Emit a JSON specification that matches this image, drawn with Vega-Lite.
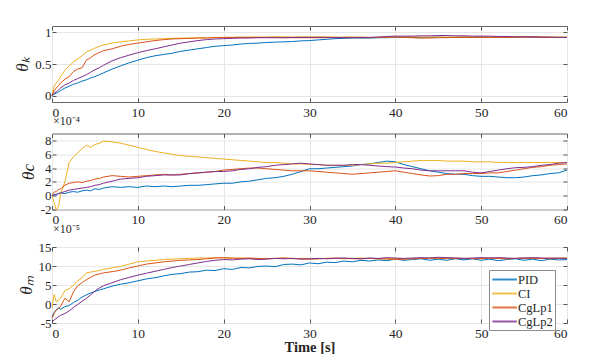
{
"$schema":"https://vega.github.io/schema/vega-lite/v6.json",
"padding":{"left":13,"top":25,"right":5,"bottom":0},
"background":"white",
"config":{
 "font":"Liberation Serif",
 "view":{"stroke":"#666666","strokeWidth":1},
 "axis":{"labelFont":"Liberation Serif","labelFontSize":13,"labelColor":"#262626","labelOverlap":false,"domain":false,"tickColor":"#555555","tickSize":-4,"gridColor":"#e6e6e6","titleFont":"Liberation Serif","titleFontSize":17,"titleColor":"#262626","titleFontWeight":"normal"},
 "axisX":{"labelPadding":7,"labelFontSize":13.5},
 "axisY":{"labelPadding":5,"titlePadding":3},
 "title":{"anchor":"start","frame":"group","fontSize":12,"fontWeight":"normal","font":"Liberation Serif","offset":5,"color":"#262626","dx":1},
 "legend":{"labelFont":"Liberation Serif","labelFontSize":12.5,"labelColor":"#262626","symbolType":"M-1,0H3","symbolSize":150,"symbolStrokeWidth":2,"symbolOpacity":0.8,"strokeColor":"#8c8c8c","fillColor":"white","padding":2,"rowPadding":-2,"labelOffset":12,"labelLimit":100}
},
"data":{"values":[
{"t":0,"g":"PID","k":0,"c":0,"m":-3.4},{"t":0.25,"g":"PID","k":0.02,"c":0.2,"m":-2.2},{"t":0.5,"g":"PID","k":0.04,"c":0.1,"m":-1.6},{"t":0.75,"g":"PID","k":0.06,"c":0.3,"m":-1.0},{"t":1,"g":"PID","k":0.08,"c":0.4,"m":-1.4},{"t":1.5,"g":"PID","k":0.12,"c":0.3,"m":-0.7},{"t":2,"g":"PID","k":0.15,"c":0.5,"m":-0.4},{"t":2.5,"g":"PID","k":0.18,"c":0.6,"m":0.4},{"t":3,"g":"PID","k":0.2,"c":0.5,"m":1.0},{"t":3.5,"g":"PID","k":0.23,"c":0.7,"m":1.8},{"t":4,"g":"PID","k":0.25,"c":0.8,"m":2.4},{"t":4.5,"g":"PID","k":0.28,"c":0.7,"m":2.9},{"t":5,"g":"PID","k":0.3,"c":1.0,"m":3.3},{"t":5.5,"g":"PID","k":0.33,"c":0.9,"m":3.7},
{"t":6,"g":"PID","k":0.36,"c":1.1,"m":4.0},{"t":7,"g":"PID","k":0.42,"c":1.3,"m":4.7},{"t":8,"g":"PID","k":0.47,"c":1.2,"m":5.2},{"t":9,"g":"PID","k":0.52,"c":1.3,"m":5.6},{"t":10,"g":"PID","k":0.56,"c":1.2,"m":6.1},{"t":11,"g":"PID","k":0.6,"c":1.4,"m":6.6},{"t":12,"g":"PID","k":0.63,"c":1.3,"m":6.9},{"t":13,"g":"PID","k":0.65,"c":1.4,"m":7.4},{"t":14,"g":"PID","k":0.67,"c":1.3,"m":7.8},{"t":15,"g":"PID","k":0.7,"c":1.4,"m":8.0},{"t":16,"g":"PID","k":0.72,"c":1.5,"m":8.4},{"t":17,"g":"PID","k":0.74,"c":1.5,"m":8.5},{"t":18,"g":"PID","k":0.76,"c":1.6,"m":8.9},{"t":19,"g":"PID","k":0.78,"c":1.7,"m":8.8},{"t":20,"g":"PID","k":0.79,"c":1.8,"m":9.3},
{"t":21,"g":"PID","k":0.8,"c":1.8,"m":9.1},{"t":22,"g":"PID","k":0.815,"c":2.0,"m":9.6},{"t":23,"g":"PID","k":0.825,"c":2.1,"m":9.5},{"t":24,"g":"PID","k":0.83,"c":2.3,"m":9.9},{"t":25,"g":"PID","k":0.84,"c":2.5,"m":10.0},{"t":26,"g":"PID","k":0.845,"c":2.6,"m":9.8},{"t":27,"g":"PID","k":0.85,"c":2.8,"m":10.4},{"t":28,"g":"PID","k":0.855,"c":3.1,"m":10.5},{"t":29,"g":"PID","k":0.865,"c":3.5,"m":10.3},{"t":30,"g":"PID","k":0.87,"c":3.9,"m":10.8},
{"t":31,"g":"PID","k":0.88,"c":3.9,"m":10.6},{"t":32,"g":"PID","k":0.89,"c":4.0,"m":11.0},{"t":33,"g":"PID","k":0.9,"c":4.1,"m":10.9},{"t":34,"g":"PID","k":0.905,"c":4.2,"m":11.3},{"t":35,"g":"PID","k":0.91,"c":4.3,"m":11.1},{"t":36,"g":"PID","k":0.91,"c":4.5,"m":11.5},{"t":37,"g":"PID","k":0.91,"c":4.6,"m":11.3},{"t":38,"g":"PID","k":0.915,"c":4.8,"m":11.6},{"t":39,"g":"PID","k":0.915,"c":5.0,"m":11.4},{"t":40,"g":"PID","k":0.92,"c":4.9,"m":11.8},
{"t":41,"g":"PID","k":0.92,"c":4.5,"m":11.5},{"t":42,"g":"PID","k":0.92,"c":4.2,"m":11.7},{"t":43,"g":"PID","k":0.915,"c":3.9,"m":11.9},{"t":44,"g":"PID","k":0.92,"c":3.6,"m":11.5},{"t":45,"g":"PID","k":0.925,"c":3.4,"m":11.8},{"t":46,"g":"PID","k":0.92,"c":3.2,"m":11.5},{"t":47,"g":"PID","k":0.92,"c":3.1,"m":11.9},{"t":48,"g":"PID","k":0.925,"c":3.1,"m":11.6},{"t":49,"g":"PID","k":0.92,"c":2.9,"m":11.9},{"t":50,"g":"PID","k":0.925,"c":2.8,"m":11.5},
{"t":51,"g":"PID","k":0.92,"c":2.8,"m":11.8},{"t":52,"g":"PID","k":0.925,"c":2.7,"m":11.4},{"t":53,"g":"PID","k":0.92,"c":2.6,"m":11.7},{"t":54,"g":"PID","k":0.92,"c":2.6,"m":11.9},{"t":55,"g":"PID","k":0.925,"c":2.7,"m":11.5},{"t":56,"g":"PID","k":0.92,"c":2.9,"m":11.8},{"t":57,"g":"PID","k":0.925,"c":3.0,"m":11.4},{"t":58,"g":"PID","k":0.92,"c":3.2,"m":11.8},{"t":59,"g":"PID","k":0.92,"c":3.3,"m":11.6},{"t":60,"g":"PID","k":0.92,"c":3.7,"m":11.7},

{"t":0,"g":"CI","k":0,"c":0,"m":-1.0},{"t":0.25,"g":"CI","k":0.15,"c":-1.0,"m":2.5},{"t":0.5,"g":"CI","k":0.2,"c":-2.0,"m":0.6},{"t":0.75,"g":"CI","k":0.24,"c":-1.6,"m":1.0},{"t":1,"g":"CI","k":0.3,"c":0.2,"m":1.5},{"t":1.5,"g":"CI","k":0.4,"c":2.0,"m":3.5},{"t":2,"g":"CI","k":0.47,"c":4.8,"m":4.0},{"t":2.5,"g":"CI","k":0.53,"c":5.6,"m":5.0},{"t":3,"g":"CI","k":0.58,"c":6.2,"m":6.1},{"t":3.5,"g":"CI","k":0.63,"c":6.8,"m":6.9},{"t":4,"g":"CI","k":0.69,"c":7.3,"m":8.2},{"t":4.5,"g":"CI","k":0.72,"c":7.0,"m":8.4},{"t":5,"g":"CI","k":0.75,"c":7.4,"m":8.6},{"t":5.5,"g":"CI","k":0.78,"c":7.6,"m":8.8},
{"t":6,"g":"CI","k":0.8,"c":7.9,"m":9.1},{"t":7,"g":"CI","k":0.83,"c":7.8,"m":9.5},{"t":8,"g":"CI","k":0.85,"c":7.6,"m":9.9},{"t":9,"g":"CI","k":0.865,"c":7.3,"m":10.5},{"t":10,"g":"CI","k":0.88,"c":7.0,"m":11.1},{"t":11,"g":"CI","k":0.89,"c":6.7,"m":11.3},{"t":12,"g":"CI","k":0.895,"c":6.4,"m":11.5},{"t":13,"g":"CI","k":0.9,"c":6.2,"m":11.7},{"t":14,"g":"CI","k":0.905,"c":6.0,"m":11.8},{"t":15,"g":"CI","k":0.91,"c":5.8,"m":11.9},{"t":16,"g":"CI","k":0.91,"c":5.7,"m":12.0},{"t":17,"g":"CI","k":0.915,"c":5.6,"m":12.1},{"t":18,"g":"CI","k":0.915,"c":5.5,"m":12.1},{"t":19,"g":"CI","k":0.92,"c":5.4,"m":12.2},{"t":20,"g":"CI","k":0.92,"c":5.3,"m":12.1},
{"t":21,"g":"CI","k":0.92,"c":5.2,"m":12.0},{"t":22,"g":"CI","k":0.925,"c":5.1,"m":12.1},{"t":23,"g":"CI","k":0.925,"c":5.0,"m":12.0},{"t":24,"g":"CI","k":0.925,"c":4.9,"m":11.9},{"t":25,"g":"CI","k":0.925,"c":4.8,"m":12.0},{"t":26,"g":"CI","k":0.93,"c":4.8,"m":12.0},{"t":27,"g":"CI","k":0.93,"c":4.7,"m":12.1},{"t":28,"g":"CI","k":0.925,"c":4.6,"m":11.9},{"t":29,"g":"CI","k":0.93,"c":4.6,"m":12.0},{"t":30,"g":"CI","k":0.93,"c":4.5,"m":12.0},
{"t":31,"g":"CI","k":0.93,"c":4.5,"m":11.9},{"t":32,"g":"CI","k":0.93,"c":4.4,"m":12.0},{"t":33,"g":"CI","k":0.925,"c":4.4,"m":12.0},{"t":34,"g":"CI","k":0.925,"c":4.4,"m":11.9},{"t":35,"g":"CI","k":0.925,"c":4.4,"m":12.0},{"t":36,"g":"CI","k":0.925,"c":4.5,"m":12.1},{"t":37,"g":"CI","k":0.92,"c":4.6,"m":12.0},{"t":38,"g":"CI","k":0.925,"c":4.7,"m":11.9},{"t":39,"g":"CI","k":0.925,"c":4.7,"m":12.0},{"t":40,"g":"CI","k":0.93,"c":4.8,"m":12.0},
{"t":41,"g":"CI","k":0.93,"c":4.9,"m":11.9},{"t":42,"g":"CI","k":0.93,"c":5.0,"m":11.9},{"t":43,"g":"CI","k":0.925,"c":5.1,"m":12.0},{"t":44,"g":"CI","k":0.925,"c":5.1,"m":12.0},{"t":45,"g":"CI","k":0.925,"c":5.1,"m":12.1},{"t":46,"g":"CI","k":0.925,"c":5.0,"m":12.0},{"t":47,"g":"CI","k":0.925,"c":5.0,"m":11.9},{"t":48,"g":"CI","k":0.93,"c":5.0,"m":12.0},{"t":49,"g":"CI","k":0.93,"c":4.9,"m":12.0},{"t":50,"g":"CI","k":0.93,"c":4.9,"m":11.9},
{"t":51,"g":"CI","k":0.925,"c":4.9,"m":12.0},{"t":52,"g":"CI","k":0.925,"c":4.8,"m":12.0},{"t":53,"g":"CI","k":0.925,"c":4.8,"m":11.9},{"t":54,"g":"CI","k":0.925,"c":4.8,"m":12.0},{"t":55,"g":"CI","k":0.925,"c":4.8,"m":12.0},{"t":56,"g":"CI","k":0.93,"c":4.8,"m":12.1},{"t":57,"g":"CI","k":0.93,"c":4.8,"m":12.0},{"t":58,"g":"CI","k":0.925,"c":4.8,"m":11.9},{"t":59,"g":"CI","k":0.925,"c":4.8,"m":12.0},{"t":60,"g":"CI","k":0.925,"c":4.8,"m":12.0},

{"t":0,"g":"CgLp1","k":0,"c":0.2,"m":-3.8},{"t":0.25,"g":"CgLp1","k":0.08,"c":0.5,"m":-2.5},{"t":0.5,"g":"CgLp1","k":0.12,"c":0.6,"m":-1.6},{"t":0.75,"g":"CgLp1","k":0.16,"c":0.9,"m":-1.2},{"t":1,"g":"CgLp1","k":0.2,"c":1.0,"m":-0.6},{"t":1.5,"g":"CgLp1","k":0.26,"c":1.5,"m":1.5},{"t":2,"g":"CgLp1","k":0.3,"c":1.8,"m":0.6},{"t":2.5,"g":"CgLp1","k":0.38,"c":1.9,"m":3.2},{"t":3,"g":"CgLp1","k":0.42,"c":2.0,"m":4.8},{"t":3.5,"g":"CgLp1","k":0.44,"c":1.9,"m":5.6},{"t":4,"g":"CgLp1","k":0.56,"c":2.1,"m":6.4},{"t":4.5,"g":"CgLp1","k":0.6,"c":2.2,"m":7.0},{"t":5,"g":"CgLp1","k":0.65,"c":2.4,"m":7.6},{"t":5.5,"g":"CgLp1","k":0.68,"c":2.5,"m":7.9},
{"t":6,"g":"CgLp1","k":0.71,"c":2.7,"m":8.2},{"t":7,"g":"CgLp1","k":0.74,"c":2.9,"m":8.5},{"t":8,"g":"CgLp1","k":0.78,"c":2.8,"m":8.9},{"t":9,"g":"CgLp1","k":0.81,"c":2.7,"m":9.5},{"t":10,"g":"CgLp1","k":0.83,"c":2.8,"m":10.0},{"t":11,"g":"CgLp1","k":0.85,"c":2.9,"m":10.5},{"t":12,"g":"CgLp1","k":0.87,"c":3.0,"m":10.8},{"t":13,"g":"CgLp1","k":0.885,"c":3.1,"m":11.1},{"t":14,"g":"CgLp1","k":0.895,"c":3.0,"m":11.3},{"t":15,"g":"CgLp1","k":0.9,"c":3.1,"m":11.5},{"t":16,"g":"CgLp1","k":0.905,"c":3.2,"m":11.6},{"t":17,"g":"CgLp1","k":0.91,"c":3.3,"m":11.7},{"t":18,"g":"CgLp1","k":0.91,"c":3.4,"m":11.9},{"t":19,"g":"CgLp1","k":0.915,"c":3.5,"m":12.1},{"t":20,"g":"CgLp1","k":0.92,"c":3.7,"m":12.2},
{"t":21,"g":"CgLp1","k":0.92,"c":3.8,"m":12.1},{"t":22,"g":"CgLp1","k":0.92,"c":3.9,"m":12.0},{"t":23,"g":"CgLp1","k":0.92,"c":4.0,"m":12.1},{"t":24,"g":"CgLp1","k":0.92,"c":4.0,"m":12.0},{"t":25,"g":"CgLp1","k":0.92,"c":3.9,"m":11.9},{"t":26,"g":"CgLp1","k":0.92,"c":3.8,"m":12.0},{"t":27,"g":"CgLp1","k":0.915,"c":3.7,"m":12.1},{"t":28,"g":"CgLp1","k":0.915,"c":3.6,"m":12.0},{"t":29,"g":"CgLp1","k":0.915,"c":3.6,"m":11.9},{"t":30,"g":"CgLp1","k":0.915,"c":3.6,"m":11.8},
{"t":31,"g":"CgLp1","k":0.915,"c":3.5,"m":11.9},{"t":32,"g":"CgLp1","k":0.915,"c":3.4,"m":12.0},{"t":33,"g":"CgLp1","k":0.92,"c":3.3,"m":12.1},{"t":34,"g":"CgLp1","k":0.915,"c":3.2,"m":12.0},{"t":35,"g":"CgLp1","k":0.915,"c":3.1,"m":11.9},{"t":36,"g":"CgLp1","k":0.915,"c":3.2,"m":11.9},{"t":37,"g":"CgLp1","k":0.915,"c":3.3,"m":12.0},{"t":38,"g":"CgLp1","k":0.92,"c":3.4,"m":11.9},{"t":39,"g":"CgLp1","k":0.92,"c":3.5,"m":11.8},{"t":40,"g":"CgLp1","k":0.925,"c":3.6,"m":11.7},
{"t":41,"g":"CgLp1","k":0.92,"c":3.4,"m":11.8},{"t":42,"g":"CgLp1","k":0.915,"c":3.2,"m":11.9},{"t":43,"g":"CgLp1","k":0.91,"c":3.0,"m":12.0},{"t":44,"g":"CgLp1","k":0.91,"c":2.85,"m":12.1},{"t":45,"g":"CgLp1","k":0.915,"c":2.9,"m":12.0},{"t":46,"g":"CgLp1","k":0.915,"c":3.1,"m":12.0},{"t":47,"g":"CgLp1","k":0.92,"c":3.1,"m":12.1},{"t":48,"g":"CgLp1","k":0.92,"c":3.2,"m":12.0},{"t":49,"g":"CgLp1","k":0.92,"c":3.2,"m":11.9},{"t":50,"g":"CgLp1","k":0.92,"c":3.2,"m":12.0},
{"t":51,"g":"CgLp1","k":0.92,"c":3.3,"m":12.1},{"t":52,"g":"CgLp1","k":0.92,"c":3.3,"m":12.0},{"t":53,"g":"CgLp1","k":0.92,"c":3.5,"m":11.9},{"t":54,"g":"CgLp1","k":0.925,"c":3.7,"m":12.0},{"t":55,"g":"CgLp1","k":0.925,"c":3.9,"m":12.1},{"t":56,"g":"CgLp1","k":0.925,"c":4.1,"m":12.0},{"t":57,"g":"CgLp1","k":0.92,"c":4.2,"m":12.0},{"t":58,"g":"CgLp1","k":0.92,"c":4.4,"m":12.1},{"t":59,"g":"CgLp1","k":0.92,"c":4.5,"m":12.0},{"t":60,"g":"CgLp1","k":0.92,"c":4.6,"m":12.1},

{"t":0,"g":"CgLp2","k":0,"c":0,"m":-4.7},{"t":0.25,"g":"CgLp2","k":0.04,"c":0.1,"m":-4.2},{"t":0.5,"g":"CgLp2","k":0.06,"c":0.2,"m":-3.8},{"t":0.75,"g":"CgLp2","k":0.09,"c":0.3,"m":-3.3},{"t":1,"g":"CgLp2","k":0.12,"c":0.4,"m":-3.0},{"t":1.5,"g":"CgLp2","k":0.17,"c":0.6,"m":-2.5},{"t":2,"g":"CgLp2","k":0.2,"c":0.8,"m":-1.8},{"t":2.5,"g":"CgLp2","k":0.24,"c":0.9,"m":-0.9},{"t":3,"g":"CgLp2","k":0.27,"c":1.0,"m":-0.1},{"t":3.5,"g":"CgLp2","k":0.3,"c":1.1,"m":0.7},{"t":4,"g":"CgLp2","k":0.33,"c":1.2,"m":1.5},{"t":4.5,"g":"CgLp2","k":0.37,"c":1.3,"m":2.4},{"t":5,"g":"CgLp2","k":0.41,"c":1.5,"m":3.4},{"t":5.5,"g":"CgLp2","k":0.44,"c":1.6,"m":4.2},
{"t":6,"g":"CgLp2","k":0.48,"c":1.8,"m":4.8},{"t":7,"g":"CgLp2","k":0.55,"c":2.1,"m":5.6},{"t":8,"g":"CgLp2","k":0.6,"c":2.4,"m":6.4},{"t":9,"g":"CgLp2","k":0.64,"c":2.5,"m":7.0},{"t":10,"g":"CgLp2","k":0.68,"c":2.6,"m":7.6},{"t":11,"g":"CgLp2","k":0.71,"c":2.8,"m":8.1},{"t":12,"g":"CgLp2","k":0.74,"c":2.9,"m":8.6},{"t":13,"g":"CgLp2","k":0.77,"c":3.0,"m":9.1},{"t":14,"g":"CgLp2","k":0.8,"c":3.0,"m":9.6},{"t":15,"g":"CgLp2","k":0.83,"c":3.0,"m":10.0},{"t":16,"g":"CgLp2","k":0.85,"c":3.2,"m":10.4},{"t":17,"g":"CgLp2","k":0.87,"c":3.3,"m":10.8},{"t":18,"g":"CgLp2","k":0.885,"c":3.4,"m":11.2},{"t":19,"g":"CgLp2","k":0.895,"c":3.5,"m":11.5},{"t":20,"g":"CgLp2","k":0.9,"c":3.5,"m":11.7},
{"t":21,"g":"CgLp2","k":0.905,"c":3.6,"m":11.6},{"t":22,"g":"CgLp2","k":0.91,"c":3.8,"m":11.8},{"t":23,"g":"CgLp2","k":0.91,"c":3.9,"m":11.9},{"t":24,"g":"CgLp2","k":0.915,"c":4.1,"m":11.7},{"t":25,"g":"CgLp2","k":0.915,"c":4.2,"m":11.8},{"t":26,"g":"CgLp2","k":0.915,"c":4.4,"m":12.0},{"t":27,"g":"CgLp2","k":0.915,"c":4.5,"m":11.9},{"t":28,"g":"CgLp2","k":0.92,"c":4.6,"m":12.0},{"t":29,"g":"CgLp2","k":0.92,"c":4.7,"m":11.8},{"t":30,"g":"CgLp2","k":0.92,"c":4.6,"m":11.9},
{"t":31,"g":"CgLp2","k":0.92,"c":4.5,"m":12.0},{"t":32,"g":"CgLp2","k":0.92,"c":4.4,"m":11.9},{"t":33,"g":"CgLp2","k":0.915,"c":4.4,"m":12.0},{"t":34,"g":"CgLp2","k":0.92,"c":4.4,"m":12.1},{"t":35,"g":"CgLp2","k":0.92,"c":4.5,"m":12.0},{"t":36,"g":"CgLp2","k":0.92,"c":4.5,"m":11.9},{"t":37,"g":"CgLp2","k":0.92,"c":4.4,"m":12.1},{"t":38,"g":"CgLp2","k":0.925,"c":4.3,"m":12.0},{"t":39,"g":"CgLp2","k":0.935,"c":4.2,"m":12.2},{"t":40,"g":"CgLp2","k":0.94,"c":4.15,"m":12.1},
{"t":41,"g":"CgLp2","k":0.94,"c":4.0,"m":12.0},{"t":42,"g":"CgLp2","k":0.94,"c":3.9,"m":12.1},{"t":43,"g":"CgLp2","k":0.945,"c":3.7,"m":12.2},{"t":44,"g":"CgLp2","k":0.945,"c":3.6,"m":12.1},{"t":45,"g":"CgLp2","k":0.95,"c":3.6,"m":12.3},{"t":46,"g":"CgLp2","k":0.95,"c":3.6,"m":12.2},{"t":47,"g":"CgLp2","k":0.945,"c":3.6,"m":12.1},{"t":48,"g":"CgLp2","k":0.945,"c":3.6,"m":12.0},{"t":49,"g":"CgLp2","k":0.94,"c":3.4,"m":12.1},{"t":50,"g":"CgLp2","k":0.94,"c":3.3,"m":12.2},
{"t":51,"g":"CgLp2","k":0.94,"c":3.5,"m":12.1},{"t":52,"g":"CgLp2","k":0.935,"c":3.7,"m":12.2},{"t":53,"g":"CgLp2","k":0.935,"c":3.9,"m":12.1},{"t":54,"g":"CgLp2","k":0.93,"c":4.05,"m":12.0},{"t":55,"g":"CgLp2","k":0.93,"c":4.1,"m":12.1},{"t":56,"g":"CgLp2","k":0.93,"c":4.2,"m":12.2},{"t":57,"g":"CgLp2","k":0.925,"c":4.4,"m":12.1},{"t":58,"g":"CgLp2","k":0.925,"c":4.5,"m":12.0},{"t":59,"g":"CgLp2","k":0.92,"c":4.7,"m":12.1},{"t":60,"g":"CgLp2","k":0.92,"c":4.8,"m":12.0}
]},
"spacing":-4.5,
"resolve":{"legend":{"color":"independent"}},
"vconcat":[
 {"width":515,"height":76,
  "layer":[
   {"mark":{"type":"line","strokeWidth":1},
    "encoding":{
     "x":{"field":"t","type":"quantitative","scale":{"domain":[0,60],"nice":false},"axis":{"values":[0,10,20,30,40,50,60],"title":null,"labelFont":"Liberation Serif"}},
     "y":{"field":"k","type":"quantitative","scale":{"domain":[-0.1,1.1],"nice":false,"zero":false},"axis":{"values":[0,0.5,1],"format":"~g","title":"θₖ","titleFontStyle":"italic","labelFont":"Liberation Serif","titleFont":"Liberation Serif"}},
     "color":{"field":"g","type":"nominal","scale":{"domain":["PID","CI","CgLp1","CgLp2"],"range":["#0072BD","#EDB120","#D95319","#7E2F8E"]},"legend":null}}},
   {"mark":{"type":"line","opacity":0},
    "encoding":{
     "x":{"field":"t","type":"quantitative","axis":{"orient":"top","values":[0,10,20,30,40,50,60],"labels":false,"grid":false,"title":null}},
     "y":{"field":"k","type":"quantitative","axis":{"orient":"right","values":[0,0.5,1],"labels":false,"grid":false,"title":null}},
     "detail":{"field":"g"}}}
  ],
  "resolve":{"axis":{"x":"independent","y":"independent"}}},
 {"width":515,"height":76,
  "title":"×10⁻⁴",
  "layer":[
   {"mark":{"type":"line","strokeWidth":1},
    "encoding":{
     "x":{"field":"t","type":"quantitative","scale":{"domain":[0,60],"nice":false},"axis":{"values":[0,10,20,30,40,50,60],"title":null,"labelFont":"Liberation Serif"}},
     "y":{"field":"c","type":"quantitative","scale":{"domain":[-2,9],"nice":false,"zero":false},"axis":{"values":[-2,0,2,4,6,8],"labelExpr":"replace(datum.label,'−','-')","title":"θc","titleFontStyle":"italic","labelFont":"Liberation Serif","titleFont":"Liberation Serif"}},
     "color":{"field":"g","type":"nominal","scale":{"domain":["PID","CI","CgLp1","CgLp2"],"range":["#0072BD","#EDB120","#D95319","#7E2F8E"]},"legend":null}}},
   {"mark":{"type":"line","opacity":0},
    "encoding":{
     "x":{"field":"t","type":"quantitative","axis":{"orient":"top","values":[0,10,20,30,40,50,60],"labels":false,"grid":false,"title":null}},
     "y":{"field":"c","type":"quantitative","axis":{"orient":"right","values":[-2,0,2,4,6,8],"labels":false,"grid":false,"title":null}},
     "detail":{"field":"g"}}}
  ],
  "resolve":{"axis":{"x":"independent","y":"independent"}}},
 {"width":515,"height":76,
  "title":"×10⁻⁵",
  "layer":[
   {"mark":{"type":"line","strokeWidth":1},
    "encoding":{
     "x":{"field":"t","type":"quantitative","scale":{"domain":[0,60],"nice":false},"axis":{"values":[0,10,20,30,40,50,60],"title":"Time [s]","titleFontWeight":"bold","titleFontSize":14.5,"titlePadding":1,"labelFont":"Liberation Serif","titleFont":"Liberation Serif"}},
     "y":{"field":"m","type":"quantitative","scale":{"domain":[-5,15],"nice":false,"zero":false},"axis":{"values":[-5,0,5,10,15],"labelExpr":"replace(datum.label,'−','-')","title":"θₘ","titleFontStyle":"italic","labelFont":"Liberation Serif","titleFont":"Liberation Serif"}},
     "color":{"field":"g","type":"nominal","scale":{"domain":["PID","CI","CgLp1","CgLp2"],"range":["#0072BD","#EDB120","#D95319","#7E2F8E"]},"legend":{"orient":"none","legendX":437,"legendY":23,"title":null}}}},
   {"mark":{"type":"line","opacity":0},
    "encoding":{
     "x":{"field":"t","type":"quantitative","axis":{"orient":"top","values":[0,10,20,30,40,50,60],"labels":false,"grid":false,"title":null}},
     "y":{"field":"m","type":"quantitative","axis":{"orient":"right","values":[-5,0,5,10,15],"labels":false,"grid":false,"title":null}},
     "detail":{"field":"g"}}}
  ],
  "resolve":{"axis":{"x":"independent","y":"independent"}}}
]
}
